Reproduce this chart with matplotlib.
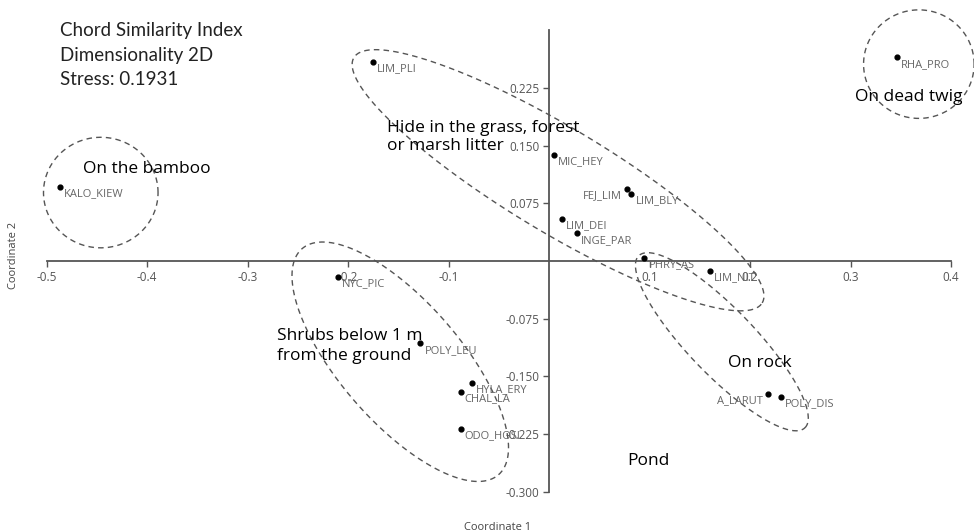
import numpy as np
import matplotlib
matplotlib.use("Agg")
import matplotlib.pyplot as plt

# NMDS scores
species = ["LIM_PLI", "RHA_PRO", "KALO_KIEW", "MIC_HEY", "FEJ_LIM", "LIM_BLY",
           "LIM_DEI", "INGE_PAR", "PHRY_AS", "LIM_NIT", "NYC_PIC", "POLY_LEU",
           "HYLA_ERY", "CHAL_LA", "ODO_HOSI", "A_LARUT", "POLY_DIS"]
coord1 = [-0.175, 0.346, -0.487, 0.005, 0.078, 0.082, 0.013, 0.028, 0.095,
          0.160, -0.210, -0.128, -0.077, -0.088, -0.088, 0.218, 0.231]
coord2 = [0.259, 0.265, 0.096, 0.138, 0.094, 0.087, 0.055, 0.036, 0.004,
          -0.013, -0.021, -0.107, -0.158, -0.170, -0.218, -0.173, -0.177]
# labels that sit on the left of their point
left_labels = ["FEJ_LIM", "A_LARUT"]

xticks = [-0.5, -0.4, -0.3, -0.2, -0.1, 0.1, 0.2, 0.3, 0.4]
yticks = [0.225, 0.150, 0.075, -0.075, -0.150, -0.225, -0.300]

# habitat groups: centre, half axes (x units), angle (deg)
groups = [
    ("On the bamboo", -0.446, 0.089, 0.057, 0.055, 0),
    ("On dead twig", 0.368, 0.256, 0.055, 0.054, 0),
    ("Hide in the grass", 0.009, 0.105, 0.237, 0.052, -31),
    ("Shrubs", -0.148, -0.131, 0.149, 0.060, -49),
    ("On rock", 0.172, -0.105, 0.119, 0.033, -46),
]

W, H = 974, 532
fig = plt.figure(figsize=(W / 100, H / 100), dpi=100)
ax = fig.add_axes([0, 0, 1, 1])
ax.set_xlim((0 - 549) / 1005, (W - 549) / 1005)
ax.set_ylim((261 - H) / 769, 261 / 769)

axis_col = "#555555"
for s in ["top", "right"]:
    ax.spines[s].set_visible(False)
ax.spines["left"].set_position(("data", 0))
ax.spines["bottom"].set_position(("data", 0))
ax.spines["left"].set_bounds(-0.3, 0.30)
ax.spines["bottom"].set_bounds(-0.5, 0.4)
for s in ["left", "bottom"]:
    ax.spines[s].set_color(axis_col)
    ax.spines[s].set_linewidth(1.3)
ax.set_xticks(xticks)
ax.set_xticklabels([f"{t:.1f}" for t in xticks])
ax.set_yticks(yticks)
ax.set_yticklabels([f"{t:.3f}" for t in yticks])
ax.tick_params(direction="out", length=4, width=1, color=axis_col,
               labelcolor="#555555", labelsize=8.5, pad=3)
for lab in ax.get_xticklabels() + ax.get_yticklabels():
    lab.set_family("Open Sans")

# ellipses: work in x units so that circles come out round
sx = 1005.0
sy = 769.0
t = np.linspace(0, 2 * np.pi, 300)
for name, cx, cy, a, b, ang in groups:
    th = np.deg2rad(ang)
    u = a * np.cos(t)
    v = b * np.sin(t)
    ex = cx + u * np.cos(th) - v * np.sin(th)
    ey = cy + (u * np.sin(th) + v * np.cos(th)) * sx / sy
    ax.plot(ex, ey, color="#555555", lw=1.0, linestyle=(0, (4, 3)))

ax.scatter(coord1, coord2, s=12, color="black", zorder=3)
for name, x, y in zip(species, coord1, coord2):
    if name in left_labels:
        ax.annotate(name, (x, y), xytext=(-4, -5), textcoords="offset points",
                    ha="right", va="center", fontsize=8, color="#666666",
                    family="Open Sans")
    else:
        ax.annotate(name, (x, y), xytext=(3, -5), textcoords="offset points",
                    ha="left", va="center", fontsize=8, color="#666666",
                    family="Open Sans")

# habitat captions
cap = dict(fontsize=12.5, color="black", family="Open Sans", ha="left",
           va="center", transform=ax.transData)
ax.text((83 - 549) / 1005, (261 - 169) / 769, "On the bamboo", **cap)
ax.text((855 - 549) / 1005, (261 - 97) / 769, "On dead twig", **cap)
ax.text((387 - 549) / 1005, (261 - 137) / 769,
        "Hide in the grass, forest\nor marsh litter", linespacing=1.25, **cap)
ax.text((277 - 549) / 1005, (261 - 346) / 769,
        "Shrubs below 1 m\nfrom the ground", linespacing=1.25, **cap)
ax.text((728 - 549) / 1005, (261 - 363) / 769, "On rock", **cap)
ax.text((627 - 549) / 1005, (261 - 461) / 769, "Pond", **cap)

fig.text(60 / W, 1 - 55 / H, "Chord Similarity Index\nDimensionality 2D\nStress: 0.1931",
         fontsize=13.5, family="Lato", color="#222222", ha="left", va="center",
         linespacing=1.55)

fig.text(498 / W, 1 - 527 / H, "Coordinate 1", fontsize=8, family="Open Sans",
         color="#444444", ha="center", va="center")
fig.text(14 / W, 1 - 255 / H, "Coordinate 2", fontsize=8, family="Open Sans",
         color="#444444", ha="center", va="center", rotation=90)

fig.savefig("out.png", dpi=100)
